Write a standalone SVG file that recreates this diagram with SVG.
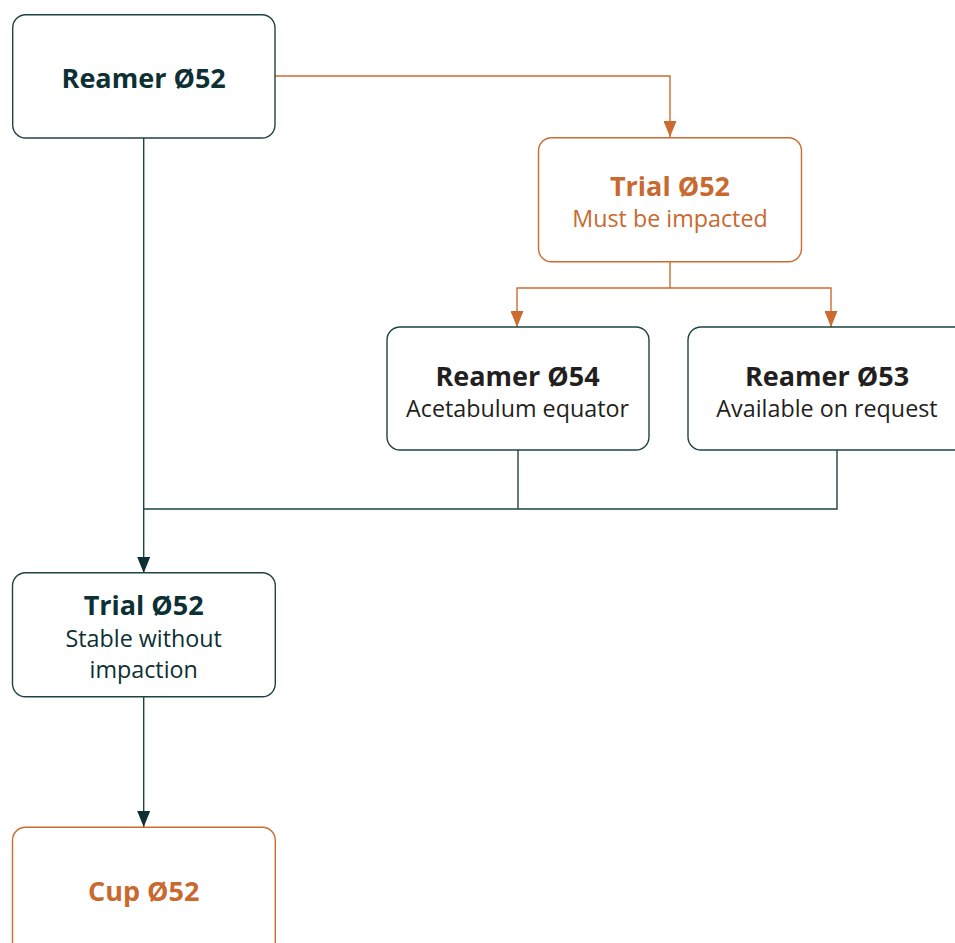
<svg xmlns="http://www.w3.org/2000/svg" width="955" height="943" viewBox="0 0 955 943">
<style>
.box{fill:#ffffff;stroke-width:1.4}
.dk{stroke:#1f4345}
.or{stroke:#cc6b2f}
.t{font-family:"Open Sans","Liberation Sans",sans-serif;text-anchor:middle}
.b{font-weight:bold;font-size:27px}
.r{font-size:23.3px}
.cd{fill:#0c3033}
.cb{fill:#231f20}
.co{fill:#c8692f}
.ln{fill:none;stroke-width:1.4}
</style>
<defs>
<marker id="ad" markerUnits="userSpaceOnUse" markerWidth="17" markerHeight="13" refX="16" refY="6.5" orient="auto" viewBox="0 0 17 13"><path d="M0,0 L16,6.5 L0,13 z" fill="#0c3033"/></marker>
<marker id="ao" markerUnits="userSpaceOnUse" markerWidth="17" markerHeight="13" refX="16" refY="6.5" orient="auto" viewBox="0 0 17 13"><path d="M0,0 L16,6.5 L0,13 z" fill="#cc6b2f"/></marker>
</defs>
<rect width="955" height="943" fill="#ffffff"/>
<g id="connectors">
<path class="ln or" d="M275,76 H670 V137" marker-end="url(#ao)"/>
<path class="ln dk" d="M143.7,138 V573" marker-end="url(#ad)"/>
<path class="ln or" d="M670,262 V288 H517 V327" marker-end="url(#ao)"/>
<path class="ln or" d="M670,288 H831 V327" marker-end="url(#ao)"/>
<path class="ln dk" d="M518,450 V509"/>
<path class="ln dk" d="M837,450 V509 H143.7"/>
<path class="ln dk" d="M143.7,697 V827" marker-end="url(#ad)"/>
</g>
<g id="reamer52">
<rect class="box dk" x="12.7" y="14.7" width="262.3" height="123.3" rx="13"/>
<text class="t b cd" x="143.7" y="88">Reamer Ø52</text>
</g>
<g id="trial52impacted">
<rect class="box or" x="538.5" y="137.7" width="263" height="124" rx="13"/>
<text class="t b co" x="670" y="196">Trial Ø52</text>
<text class="t r co" x="670" y="227">Must be impacted</text>
</g>
<g id="reamer54">
<rect class="box dk" x="387" y="327" width="262" height="123" rx="13"/>
<text class="t b cb" x="517.5" y="385.5">Reamer Ø54</text>
<text class="t r cb" x="517.5" y="417">Acetabulum equator</text>
</g>
<g id="reamer53">
<rect class="box dk" x="688" y="327" width="285" height="123" rx="13"/>
<text class="t b cb" x="827" y="385.5">Reamer Ø53</text>
<text class="t r cb" x="827" y="417">Available on request</text>
</g>
<g id="trial52stable">
<rect class="box dk" x="12.5" y="572.7" width="262.8" height="124" rx="13"/>
<text class="t b cd" x="143.7" y="615">Trial Ø52</text>
<text class="t r cd" x="143.7" y="647">Stable without</text>
<text class="t r cd" x="143.7" y="678">impaction</text>
</g>
<g id="cup52">
<rect class="box or" x="12.5" y="827.3" width="262.8" height="140" rx="13"/>
<text class="t b co" x="143.7" y="900.7">Cup Ø52</text>
</g>
</svg>
